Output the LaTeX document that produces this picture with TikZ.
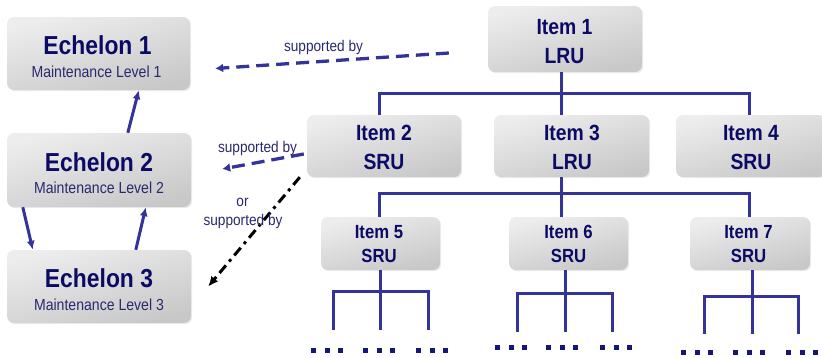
\documentclass[tikz,border=0pt]{standalone}
\usepackage{fontspec}
\setmainfont{Liberation Sans}[FakeStretch=0.88]
\usetikzlibrary{shadows,arrows.meta,calc}
\definecolor{navy}{HTML}{0B0B66}
\definecolor{subc}{HTML}{2A2870}
\definecolor{linec}{HTML}{33339A}
\definecolor{dotc}{HTML}{15157A}
\definecolor{boxtop}{HTML}{EDEDED}
\definecolor{boxbot}{HTML}{C8C8C8}
\begin{document}
\begin{tikzpicture}[x=1pt,y=-1pt,
  box/.style={rounded corners=7pt, top color=boxtop, bottom color=boxbot, shading angle=15, draw=none, inner sep=0pt,
     drop shadow={opacity=0.15, shadow xshift=1.2pt, shadow yshift=-1.2pt}},
  ttl/.style={anchor=base, inner sep=0pt, text=navy, font=\bfseries\fontsize{26}{28}\selectfont},
  sub/.style={anchor=base, inner sep=0pt, text=subc, font=\fontsize{16}{18}\selectfont},
  itl/.style={anchor=base, inner sep=0pt, text=navy, font=\bfseries\fontsize{22}{24}\selectfont},
  its/.style={anchor=base, inner sep=0pt, text=navy, font=\bfseries\fontsize{19}{21}\selectfont},
  lbl/.style={anchor=base, inner sep=0pt, text=subc, font=\fontsize{15.5}{18}\selectfont},
  tree/.style={linec, line width=3pt},
  arr/.style={linec, line width=3pt, -{Latex[length=9pt,width=8pt]}},
  dashb/.style={linec, line width=3.3pt, dash pattern=on 13pt off 7pt, -{Latex[length=8pt,width=9pt]}},
  dashk/.style={black, line width=3pt, dash pattern=on 10pt off 5pt on 3pt off 5pt, -{Latex[length=10pt,width=9pt]}}
]
\useasboundingbox (0,0) rectangle (822,357);

% boxes
\node[box, minimum width=183pt, minimum height=73pt] (e1) at (98.5,53.5) {};
\node[box, minimum width=184pt, minimum height=74pt] (e2) at (99,170) {};
\node[box, minimum width=184pt, minimum height=73pt] (e3) at (99,286.5) {};
\node[box, minimum width=154pt, minimum height=66pt] (i1) at (565,39) {};
\node[box, minimum width=154pt, minimum height=62pt] (i2) at (384,146) {};
\node[box, minimum width=155pt, minimum height=62pt] (i3) at (571.5,146) {};
\node[box, minimum width=150pt, minimum height=62pt] (i4) at (751,146) {};
\node[box, minimum width=119pt, minimum height=53pt] (i5) at (380.5,243.5) {};
\node[box, minimum width=119pt, minimum height=53pt] (i6) at (568.5,243.5) {};
\node[box, minimum width=120pt, minimum height=53pt] (i7) at (750,243.5) {};

% texts
\node[ttl] (e1a) at (97.5,54) {Echelon 1};
\node[sub] (e1b) at (96.5,77) {Maintenance Level 1};
\node[ttl] (e2a) at (99,171) {Echelon 2};
\node[sub] (e2b) at (99,193) {Maintenance Level 2};
\node[ttl] (e3a) at (99,287) {Echelon 3};
\node[sub] (e3b) at (99,310) {Maintenance Level 3};

\node[itl] (i1a) at (564.5,34) {Item 1};
\node[itl] (i1b) at (564.5,63) {LRU};
\node[itl] (i2a) at (384,140) {Item 2};
\node[itl] (i2b) at (384,169) {SRU};
\node[itl] (i3a) at (572,140) {Item 3};
\node[itl] (i3b) at (572,169) {LRU};
\node[itl] (i4a) at (751,140) {Item 4};
\node[itl] (i4b) at (751,169) {SRU};
\node[its] (i5a) at (379,238) {Item 5};
\node[its] (i5b) at (379,262) {SRU};
\node[its] (i6a) at (568.5,238) {Item 6};
\node[its] (i6b) at (568.5,262) {SRU};
\node[its] (i7a) at (748.5,238) {Item 7};
\node[its] (i7b) at (748.5,262) {SRU};

% tree level 1
\coordinate (t1) at (561,93);
\draw[tree] ([xshift=-4pt]i1.south) -- (t1);
\draw[tree] ([xshift=-5pt]i2.north) |- (t1) -| ([xshift=-2pt]i4.north);
\draw[tree] (t1) -- ([xshift=-10.5pt]i3.north);

% tree level 2
\coordinate (t2) at (561,193);
\draw[tree] ([xshift=-10.5pt]i3.south) -- (t2);
\draw[tree] ([xshift=-1.5pt]i5.north) |- (t2) -| ([xshift=-1pt]i7.north);
\draw[tree] (t2) -- ([xshift=-7.5pt]i6.north);

% sub trees
\coordinate (s5) at (380,291);
\coordinate (l5a) at (333,330); \coordinate (l5b) at (380,330); \coordinate (l5c) at (428,330);
\draw[tree] ([xshift=-0.5pt]i5.south) -- (s5);
\draw[tree] (l5a) |- (s5) -| (l5c);
\draw[tree] (s5) -- (l5b);

\coordinate (s6) at (565,293);
\coordinate (l6a) at (517,332); \coordinate (l6b) at (565,332); \coordinate (l6c) at (612,332);
\draw[tree] ([xshift=-3.5pt]i6.south) -- (s6);
\draw[tree] (l6a) |- (s6) -| (l6c);
\draw[tree] (s6) -- (l6b);

\coordinate (s7) at (752,296);
\coordinate (l7a) at (704,334); \coordinate (l7b) at (752,334); \coordinate (l7c) at (798,334);
\draw[tree] ([xshift=2pt]i7.south) -- (s7);
\draw[tree] (l7a) |- (s7) -| (l7c);
\draw[tree] (s7) -- (l7b);

% dots
\foreach \cx/\cy in {327/350,379/350,432/350,511/347,562/347,616/347,697/352,749/352,802/352}{
  \foreach \d in {-13.5,0,13.5}{
    \fill[dotc] (\cx+\d-2.5,\cy-2.5) rectangle ++(5,5);
  }
}

% echelon arrows
\draw[arr] ([xshift=121pt]e2.north west) -- ([xshift=132pt]e1.south west);
\draw[arr] ([xshift=16pt]e2.south west) -- ([xshift=26pt]e3.north west);
\draw[arr] ([xshift=129pt]e3.north west) -- ([xshift=139pt]e2.south west);

% supported by arrows
\draw[dashb] ([shift={(-39pt,-14pt)}]i1.west) -- ([shift={(25pt,-15pt)}]e1.east);
\draw[dashb] ([shift={(-3pt,-8pt)}]i2.west) -- ([shift={(31pt,1pt)}]e2.east);
\draw[dashk] ([xshift=-7pt]i2.south west) -- ([xshift=17pt]e3.east);

% labels
\node[lbl] (s1) at (323.5,51) {supported by};
\node[lbl] (s2) at (257.5,152) {supported by};
\node[lbl] (s3a) at (242.5,206) {or};
\node[lbl] (s3b) at (243,225) {supported by};
\end{tikzpicture}
\end{document}
